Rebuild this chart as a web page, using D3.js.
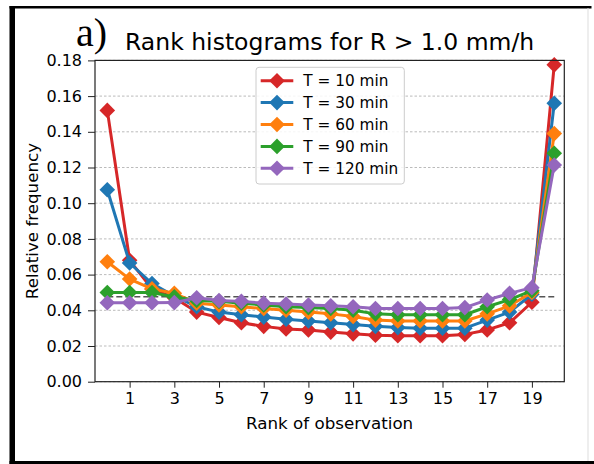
<!DOCTYPE html>
<html>
<head>
<meta charset="utf-8">
<script src="https://cdn.jsdelivr.net/npm/d3@7"></script>
<style>
  body { margin: 0; background: #fff; }
  svg text { font-family: "DejaVu Sans", sans-serif; fill: #000; }
</style>
</head>
<body>
<div id="chart"></div>
<script>
// rank categories and relative frequencies per lead time
const ranks = [0, 1, 2, 3, 4, 5, 6, 7, 8, 9, 10, 11, 12, 13, 14, 15, 16, 17, 18, 19, 20];
const xTicks = [1, 3, 5, 7, 9, 11, 13, 15, 17, 19];
const yTicks = [0, 0.02, 0.04, 0.06, 0.08, 0.10, 0.12, 0.14, 0.16, 0.18];
const seriesNames = ["T = 10 min", "T = 30 min", "T = 60 min", "T = 90 min", "T = 120 min"];
const t10 = [0.152, 0.068, 0.052, 0.047, 0.039, 0.036, 0.033, 0.031, 0.0295, 0.029, 0.0278, 0.0268, 0.026, 0.0258, 0.0258, 0.0258, 0.0265, 0.029, 0.033, 0.0445, 0.1775];
const t30 = [0.1075, 0.0665, 0.055, 0.048, 0.042, 0.039, 0.0375, 0.0362, 0.035, 0.034, 0.033, 0.032, 0.031, 0.0303, 0.030, 0.030, 0.030, 0.0345, 0.039, 0.049, 0.156];
const t60 = [0.0672, 0.0575, 0.052, 0.0495, 0.044, 0.043, 0.042, 0.041, 0.040, 0.039, 0.038, 0.0365, 0.0345, 0.034, 0.034, 0.034, 0.034, 0.038, 0.0425, 0.050, 0.139];
const t90 = [0.050, 0.050, 0.050, 0.0475, 0.0455, 0.045, 0.044, 0.043, 0.042, 0.0415, 0.041, 0.040, 0.038, 0.0375, 0.0375, 0.0375, 0.0375, 0.042, 0.046, 0.051, 0.128];
const t120 = [0.0442, 0.0442, 0.0442, 0.0443, 0.047, 0.0455, 0.045, 0.044, 0.0435, 0.043, 0.0425, 0.042, 0.041, 0.041, 0.041, 0.041, 0.0415, 0.0458, 0.0495, 0.0527, 0.1214];
const uniformLevel = 1 / 21;

const colors = ["#d62728", "#1f77b4", "#ff7f0e", "#2ca02c", "#9467bd"];
const allSeries = [t10, t30, t60, t90, t120].map((vals, i) => ({
    name: seriesNames[i],
    color: colors[i],
    points: vals.map((v, j) => ({ rank: ranks[j], value: v }))
}));

const width = 594;
const height = 464;
const plot = { left: 95, right: 564.3, top: 60.4, bottom: 381.7 };

const svg = d3.select("#chart")
    .append("svg")
    .attr("width", width)
    .attr("height", height);

// outer frame (scanned figure border)
svg.append("rect").attr("x", 9.5).attr("y", 6).attr("width", 5.5).attr("height", 458).attr("fill", "#000");
svg.append("rect").attr("x", 9.5).attr("y", 6).attr("width", 582).attr("height", 2.5).attr("fill", "#000");
svg.append("rect").attr("x", 9.5).attr("y", 461).attr("width", 585).attr("height", 3).attr("fill", "#000");
svg.append("line").attr("x1", 588).attr("x2", 588).attr("y1", 8).attr("y2", 461)
    .attr("stroke", "#ddd").attr("stroke-width", 1);

const xScale = d3.scaleLinear()
    .domain([-0.55, 20.45])
    .range([plot.left, plot.right]);

const yScale = d3.scaleLinear()
    .domain([0, 0.18])
    .range([plot.bottom, plot.top]);

// grid lines
svg.append("g")
    .selectAll("line")
    .data(yTicks)
    .enter()
    .append("line")
    .attr("x1", plot.left)
    .attr("x2", plot.right)
    .attr("y1", d => yScale(d))
    .attr("y2", d => yScale(d))
    .attr("stroke", "#aaa")
    .attr("stroke-width", 0.8)
    .attr("stroke-dasharray", "2.5,2");

// uniform reference level
svg.append("line")
    .attr("x1", xScale(ranks[0]))
    .attr("x2", xScale(ranks[ranks.length - 1]))
    .attr("y1", yScale(uniformLevel))
    .attr("y2", yScale(uniformLevel))
    .attr("stroke", "#555")
    .attr("stroke-width", 1.5)
    .attr("stroke-dasharray", "6,3");

const line = d3.line()
    .x(d => xScale(d.rank))
    .y(d => yScale(d.value));

const diamond = d3.symbol().type(d3.symbolSquare).size(122);

allSeries.forEach(s => {
    const g = svg.append("g");
    g.append("path")
        .datum(s.points)
        .attr("d", line)
        .attr("fill", "none")
        .attr("stroke", s.color)
        .attr("stroke-width", 3)
        .attr("stroke-linejoin", "round");
    g.selectAll("path.marker")
        .data(s.points)
        .enter()
        .append("path")
        .attr("class", "marker")
        .attr("d", diamond)
        .attr("transform", d => `translate(${xScale(d.rank)},${yScale(d.value)}) rotate(45)`)
        .attr("fill", s.color);
});

// axes
const xAxis = svg.append("g")
    .attr("transform", `translate(0,${plot.bottom})`)
    .call(d3.axisBottom(xScale).tickValues(xTicks).tickSize(6).tickPadding(5).tickSizeOuter(0));
xAxis.select(".domain").remove();
xAxis.selectAll("text").style("font-size", "16px");
xAxis.selectAll("line").attr("stroke", "#222");

const yAxis = svg.append("g")
    .attr("transform", `translate(${plot.left},0)`)
    .call(d3.axisLeft(yScale).tickValues(yTicks).tickFormat(d3.format(".2f")).tickSize(7).tickPadding(6).tickSizeOuter(0));
yAxis.select(".domain").remove();
yAxis.selectAll("text").style("font-size", "16px");
yAxis.selectAll("line").attr("stroke", "#222");

// spines
svg.append("rect")
    .attr("x", plot.left)
    .attr("y", plot.top)
    .attr("width", plot.right - plot.left)
    .attr("height", plot.bottom - plot.top)
    .attr("fill", "none")
    .attr("stroke", "#222")
    .attr("stroke-width", 1.2);

// legend
const legend = svg.append("g").attr("transform", "translate(256,67.3)");
legend.append("rect")
    .attr("width", 148.3)
    .attr("height", 116.7)
    .attr("rx", 3)
    .attr("fill", "#fff")
    .attr("fill-opacity", 0.85)
    .attr("stroke", "#ccc");
const item = legend.selectAll("g.item")
    .data(allSeries)
    .enter()
    .append("g")
    .attr("class", "item")
    .attr("transform", (d, i) => `translate(0,${13.4 + i * 21.9})`);
item.append("line")
    .attr("x1", 4.7).attr("x2", 37.3)
    .attr("stroke", d => d.color)
    .attr("stroke-width", 3);
item.append("path")
    .attr("d", diamond)
    .attr("transform", "translate(21,0) rotate(45)")
    .attr("fill", d => d.color);
item.append("text")
    .attr("x", 47.3)
    .attr("dy", "0.36em")
    .style("font-size", "15.3px")
    .text(d => d.name);

// labels
svg.append("text")
    .attr("x", (plot.left + plot.right) / 2)
    .attr("y", 429)
    .attr("text-anchor", "middle")
    .style("font-size", "16.7px")
    .text("Rank of observation");

svg.append("text")
    .attr("transform", `translate(38,${(plot.top + plot.bottom) / 2}) rotate(-90)`)
    .attr("text-anchor", "middle")
    .style("font-size", "16.7px")
    .text("Relative frequency");

svg.append("text")
    .attr("x", (plot.left + plot.right) / 2)
    .attr("y", 50)
    .attr("text-anchor", "middle")
    .style("font-size", "23.5px")
    .text("Rank histograms for R > 1.0 mm/h");

svg.append("text")
    .attr("x", 76)
    .attr("y", 46)
    .style("font-family", "'Liberation Serif', serif")
    .style("font-size", "40px")
    .text("a)");
</script>
</body>
</html>
